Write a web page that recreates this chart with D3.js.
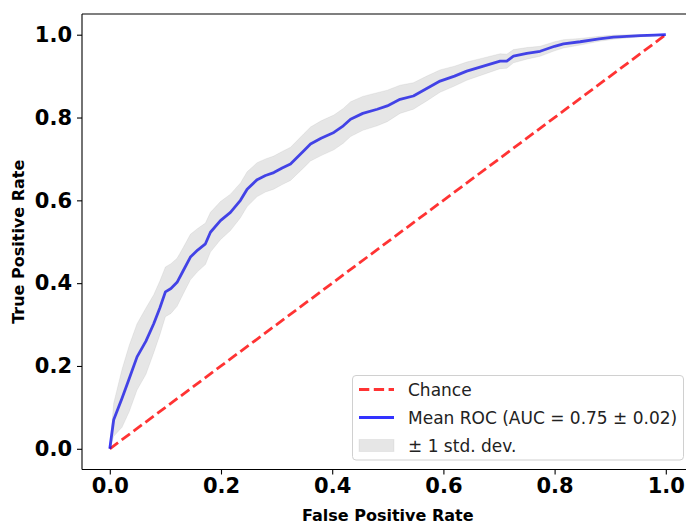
<!DOCTYPE html>
<html lang="en">
<head>
  <meta charset="utf-8">
  <title>Mean ROC</title>
  <script src="https://d3js.org/d3.v7.min.js"></script>
  <style>
    body { margin: 0; background: #fff; }
    svg { display: block; font-family: "DejaVu Sans", sans-serif; }
  </style>
</head>
<body>
<script>
// values
var meanFpr = [0, 0.007, 0.022, 0.035, 0.049, 0.065, 0.079, 0.09, 0.1, 0.11, 0.121, 0.132, 0.145, 0.158,
  0.172, 0.181, 0.199, 0.217, 0.235, 0.247, 0.265, 0.28, 0.295, 0.31, 0.325, 0.349, 0.361, 0.38, 0.403,
  0.42, 0.433, 0.455, 0.481, 0.499, 0.522, 0.546, 0.57, 0.594, 0.62, 0.642, 0.672, 0.702, 0.714, 0.726,
  0.75, 0.774, 0.8, 0.816, 0.846, 0.88, 0.906, 0.93, 0.954, 0.98, 1.0];
var meanTpr = [0, 0.07, 0.122, 0.17, 0.222, 0.26, 0.302, 0.34, 0.379, 0.387, 0.402, 0.43, 0.463, 0.48,
  0.495, 0.523, 0.551, 0.571, 0.6, 0.627, 0.65, 0.66, 0.667, 0.678, 0.688, 0.72, 0.736, 0.75, 0.764,
  0.78, 0.796, 0.81, 0.82, 0.828, 0.844, 0.852, 0.87, 0.888, 0.9, 0.912, 0.924, 0.936, 0.936, 0.948,
  0.955, 0.96, 0.972, 0.978, 0.983, 0.99, 0.994, 0.996, 0.998, 0.999, 1.0];
var stdTpr = [0, 0.04, 0.07, 0.08, 0.08, 0.08, 0.07, 0.065, 0.06, 0.06, 0.058, 0.056, 0.055, 0.052,
  0.05, 0.048, 0.046, 0.044, 0.042, 0.042, 0.041, 0.04, 0.04, 0.04, 0.04, 0.041, 0.041, 0.042, 0.042,
  0.042, 0.042, 0.041, 0.04, 0.038, 0.034, 0.032, 0.03, 0.027, 0.024, 0.022, 0.02, 0.018, 0.017, 0.016,
  0.014, 0.012, 0.011, 0.01, 0.008, 0.006, 0.005, 0.004, 0.003, 0.002, 0];
var chance = [[0, 0], [1, 1]];
var ticks = [0, 0.2, 0.4, 0.6, 0.8, 1.0];
var legendLabels = ["Chance", "Mean ROC (AUC = 0.75 \u00b1 0.02)", "\u00b1 1 std. dev."];

var w = 686, h = 527;
// plot box (right spine falls outside the picture)
var pL = 82, pT = 14, pB = 469.5, pR = 693.6;

var x = d3.scaleLinear().domain([-0.05, 1.05]).range([pL, pR]);
var y = d3.scaleLinear().domain([-0.05, 1.05]).range([pB, pT]);

var svg = d3.select("body").append("svg")
  .attr("width", w)
  .attr("height", h);

var pts = meanFpr.map(function(f, i) {
  return { f: f, t: meanTpr[i], lo: Math.max(meanTpr[i] - stdTpr[i], 0), hi: Math.min(meanTpr[i] + stdTpr[i], 1) };
});

// chance line
svg.append("path")
  .datum(chance)
  .attr("d", d3.line().x(function(d) { return x(d[0]); }).y(function(d) { return y(d[1]); }))
  .attr("fill", "none")
  .attr("stroke", "#ff0000")
  .attr("stroke-opacity", 0.8)
  .attr("stroke-width", 2.8)
  .attr("stroke-dasharray", "10.3,4.5");

// mean roc
svg.append("path")
  .datum(pts)
  .attr("d", d3.line().x(function(d) { return x(d.f); }).y(function(d) { return y(d.t); }))
  .attr("fill", "none")
  .attr("stroke", "#0000ff")
  .attr("stroke-opacity", 0.8)
  .attr("stroke-width", 2.8)
  .attr("stroke-linejoin", "round");

// std band
svg.append("path")
  .datum(pts)
  .attr("d", d3.area().x(function(d) { return x(d.f); }).y0(function(d) { return y(d.lo); }).y1(function(d) { return y(d.hi); }))
  .attr("fill", "#808080")
  .attr("fill-opacity", 0.2)
  .attr("stroke", "#808080")
  .attr("stroke-opacity", 0.12)
  .attr("stroke-width", 1);

// axes
var xAxis = svg.append("g")
  .attr("transform", "translate(0," + pB + ")")
  .call(d3.axisBottom(x).tickValues(ticks).tickFormat(d3.format(".1f")).tickSize(5).tickPadding(4));
var yAxis = svg.append("g")
  .attr("transform", "translate(" + pL + ",0)")
  .call(d3.axisLeft(y).tickValues(ticks).tickFormat(d3.format(".1f")).tickSize(5).tickPadding(5));

[xAxis, yAxis].forEach(function(g) {
  g.select(".domain").remove();
  g.selectAll(".tick line").attr("stroke", "#000").attr("stroke-width", 1.1);
  g.selectAll(".tick text")
    .attr("fill", "#000")
    .style("font-family", "'DejaVu Sans', sans-serif")
    .style("font-size", "21px")
    .style("font-weight", "bold");
});

// spines
svg.append("line").attr("x1", pL).attr("x2", pL).attr("y1", pT).attr("y2", pB)
  .attr("stroke", "#000").attr("stroke-width", 1.1);
svg.append("line").attr("x1", pL).attr("x2", pR).attr("y1", pB).attr("y2", pB)
  .attr("stroke", "#000").attr("stroke-width", 1.1);
svg.append("line").attr("x1", pL).attr("x2", pR).attr("y1", pT).attr("y2", pT)
  .attr("stroke", "#000").attr("stroke-width", 1.1);

// axis labels
svg.append("text")
  .attr("x", (pL + pR) / 2)
  .attr("y", 521)
  .attr("text-anchor", "middle")
  .style("font-size", "16px")
  .style("font-weight", "bold")
  .text("False Positive Rate");
svg.append("text")
  .attr("transform", "translate(24," + (pT + pB) / 2 + ") rotate(-90)")
  .attr("text-anchor", "middle")
  .style("font-size", "16px")
  .style("font-weight", "bold")
  .text("True Positive Rate");

// legend
var lg = svg.append("g");
lg.append("rect")
  .attr("x", 352.5).attr("y", 375.5)
  .attr("width", 331).attr("height", 84.5)
  .attr("rx", 3.5)
  .attr("fill", "#fff").attr("fill-opacity", 0.8)
  .attr("stroke", "#d0d0d0").attr("stroke-width", 1);

var rowY = [389.5, 417.5, 445.5];
lg.append("line").attr("x1", 359).attr("x2", 394).attr("y1", rowY[0]).attr("y2", rowY[0])
  .attr("stroke", "#ff0000").attr("stroke-opacity", 0.8).attr("stroke-width", 2.8)
  .attr("stroke-dasharray", "10.3,4.5");
lg.append("line").attr("x1", 359).attr("x2", 394).attr("y1", rowY[1]).attr("y2", rowY[1])
  .attr("stroke", "#0000ff").attr("stroke-opacity", 0.8).attr("stroke-width", 2.8);
lg.append("rect").attr("x", 359).attr("y", rowY[2] - 6).attr("width", 35).attr("height", 12)
  .attr("fill", "#808080").attr("fill-opacity", 0.2)
  .attr("stroke", "#808080").attr("stroke-opacity", 0.12);

lg.selectAll("text.lab")
  .data(legendLabels)
  .enter()
  .append("text")
  .attr("class", "lab")
  .attr("x", 408)
  .attr("y", function(d, i) { return rowY[i] + 6; })
  .attr("fill", "#222")
  .style("font-size", "17px")
  .text(function(d) { return d; });
</script>
</body>
</html>
